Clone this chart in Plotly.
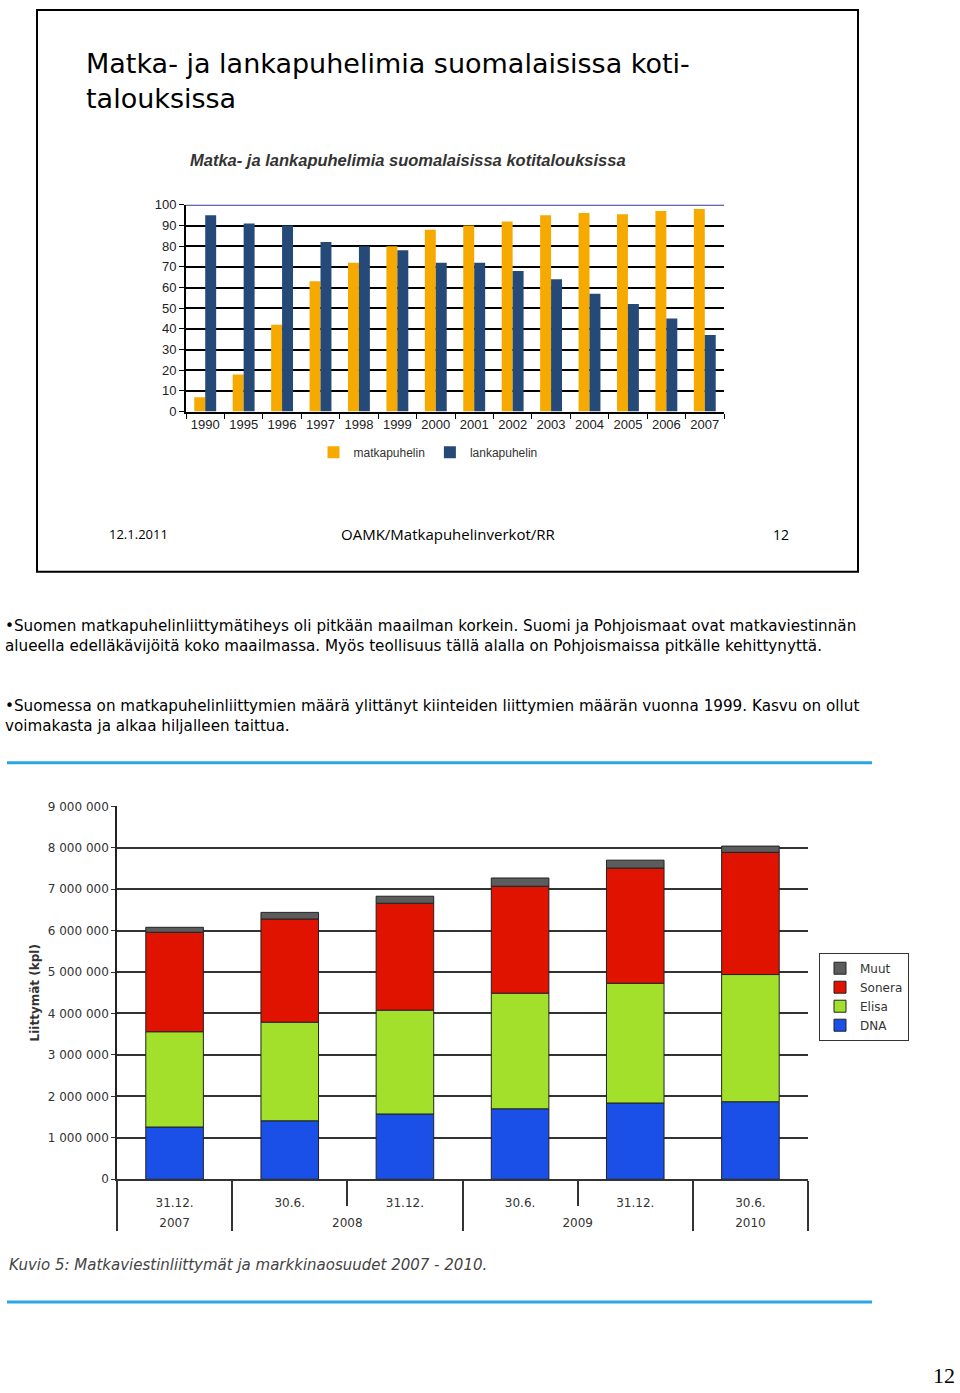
import plotly.graph_objects as go

W, H = 960, 1393


def fx(px):
    return px / W


def fy(py):
    return 1 - py / H


# ---------------- data: top chart ----------------
years = ["1990", "1995", "1996", "1997", "1998", "1999", "2000",
         "2001", "2002", "2003", "2004", "2005", "2006", "2007"]
matkapuhelin = [7, 18, 42, 63, 72, 80, 88, 90, 92, 95, 96, 95.5, 97, 98]
lankapuhelin = [95, 91, 90, 82, 80, 78, 72, 72, 68, 64, 57, 52, 45, 37]

# ---------------- data: bottom chart ----------------
period_year = ["2007", "2008", "2008", "2009", "2009", "2010"]
period_date = ["31.12.", "30.6.", "31.12.", "30.6.", "31.12.", "30.6."]
dna = [1260000, 1410000, 1575000, 1700000, 1840000, 1870000]
elisa = [2300000, 2380000, 2505000, 2790000, 2890000, 3070000]
sonera = [2400000, 2490000, 2580000, 2580000, 2780000, 2950000]
muut = [120000, 160000, 170000, 200000, 190000, 150000]

# inner labels: an invisible second line (non-breaking spaces) adds room
# between the two label rows; the first label gets a different count so
# plotly keeps the "30.6." / "31.12." order inside each year group.
inner_labels = [d + "<br>" + "\u00a0" * (1 if i == 0 else 2)
                for i, d in enumerate(period_date)]

fig = go.Figure()

# top grouped bars
fig.add_trace(go.Bar(x=years, y=matkapuhelin, name="matkapuhelin",
                     marker=dict(color="#f6aa00", line=dict(width=0)),
                     xaxis="x", yaxis="y", legend="legend"))
fig.add_trace(go.Bar(x=years, y=lankapuhelin, name="lankapuhelin",
                     marker=dict(color="#264a78", line=dict(width=0)),
                     xaxis="x", yaxis="y", legend="legend"))

# bottom stacked bars (stacked via base within one offset group)
xcat = [period_year, inner_labels]
stack_series = [("DNA", dna, "#1b50e8"), ("Elisa", elisa, "#a2e02c"),
                ("Sonera", sonera, "#e01200"), ("Muut", muut, "#5c5c5c")]
running = [0] * len(dna)
for name, vals, col in stack_series:
    fig.add_trace(go.Bar(x=xcat, y=vals, base=list(running), name=name,
                         offsetgroup="s", width=0.5,
                         marker=dict(color=col, line=dict(color="#222222", width=1)),
                         xaxis="x2", yaxis="y2", legend="legend2"))
    running = [r + v for r, v in zip(running, vals)]

top_font = dict(family="Liberation Sans", size=13, color="#222222")
bot_font = dict(family="DejaVu Sans", size=12, color="#333333")

fig.update_layout(
    width=W, height=H, margin=dict(l=0, r=0, t=0, b=0),
    paper_bgcolor="white", plot_bgcolor="white",
    barmode="group", bargap=0.43, bargroupgap=0,
    separators=". ",
    showlegend=True,
    xaxis=dict(domain=[fx(186), fx(724)], anchor="y", showline=True,
               linecolor="black", linewidth=2, ticks="outside",
               tickson="boundaries", ticklen=5, tickcolor="black",
               tickfont=top_font, showgrid=False),
    yaxis=dict(domain=[fy(409), fy(200)], anchor="x", range=[0, 100],
               dtick=10, showgrid=True, gridcolor="black", gridwidth=2,
               showline=True, linecolor="black", linewidth=2,
               ticks="outside", ticklen=5, tickcolor="black",
               tickfont=top_font, zeroline=False),
    xaxis2=dict(type="multicategory", domain=[fx(117), fx(808)], anchor="y2",
                showline=True, linecolor="#333333", linewidth=1.5,
                ticks="outside", ticklen=25, tickcolor="#333333",
                tickwidth=1.5, showdividers=True, dividercolor="#333333",
                dividerwidth=1.5, tickfont=bot_font, showgrid=False,
                ticklabelstandoff=12),
    yaxis2=dict(domain=[fy(1185), fy(808)], anchor="x2", range=[0, 9000000],
                dtick=1000000, tickformat=",d", showgrid=True,
                gridcolor="#333333", gridwidth=1.5, showline=True,
                linecolor="#222222", linewidth=1.5, ticks="outside",
                ticklen=4, tickcolor="#333333", tickfont=bot_font,
                zeroline=False,
                title=dict(text="<b>Liittymät (kpl)</b>", standoff=6,
                           font=dict(family="DejaVu Sans", size=12, color="#333333"))),
    legend=dict(orientation="h", x=fx(428), xanchor="center", y=fy(450),
                yanchor="middle", font=dict(family="Liberation Sans", size=12,
                                            color="#333333"),
                bgcolor="rgba(0,0,0,0)", itemwidth=30),
    legend2=dict(x=fx(819), xanchor="left", y=fy(956), yanchor="top",
                 traceorder="reversed", bordercolor="#333333", borderwidth=1,
                 bgcolor="white", font=bot_font, itemwidth=30),
)

shapes = [
    # slide frame
    dict(type="rect", xref="paper", yref="paper", x0=fx(37), x1=fx(858),
         y0=fy(571), y1=fy(3), line=dict(color="black", width=2)),
    # top frame line of top chart at 100
    dict(type="line", xref="x domain", yref="y", x0=0, x1=1, y0=100, y1=100,
         line=dict(color="#2b3d8c", width=2)),
    # blue separators
    dict(type="line", xref="paper", yref="paper", x0=fx(7), x1=fx(872),
         y0=fy(764), y1=fy(764), line=dict(color="#2aa6e6", width=3)),
    dict(type="line", xref="paper", yref="paper", x0=fx(7), x1=fx(872),
         y0=fy(1309), y1=fy(1309), line=dict(color="#2aa6e6", width=3)),
]
fig.update_layout(shapes=shapes)

body = "DejaVu Sans"


def txt(s, x, y, size, family=body, color="black", xanchor="left"):
    return dict(text=s, xref="paper", yref="paper", x=fx(x), y=fy(y),
                xanchor=xanchor, yanchor="middle", align="left",
                showarrow=False,
                font=dict(family=family, size=size, color=color))


annotations = [
    txt("Matka- ja lankapuhelimia suomalaisissa koti-<br>talouksissa",
        84, 74.5, 27),
    txt("<b><i>Matka- ja lankapuhelimia suomalaisissa kotitalouksissa</i></b>",
        188, 155, 16.5, family="Liberation Sans", color="#333333"),
    txt("12.1.2011", 107, 533, 13, family="Open Sans"),
    txt("OAMK/Matkapuhelinverkot/RR", 448, 533, 15, family="Open Sans",
        xanchor="center"),
    txt("12", 781, 533, 14, family="Open Sans", xanchor="center"),
    txt("•Suomen matkapuhelinliittymätiheys oli pitkään maailman korkein. Suomi ja Pohjoismaat ovat matkaviestinnän"
        "<br>alueella edelläkävijöitä koko maailmassa. Myös teollisuus tällä alalla on Pohjoismaissa pitkälle kehittynyttä.",
        3, 636, 15.2),
    txt("•Suomessa on matkapuhelinliittymien määrä ylittänyt kiinteiden liittymien määrän vuonna 1999. Kasvu on ollut"
        "<br>voimakasta ja alkaa hiljalleen taittua.",
        3, 717, 15.2),
    txt("<i>Kuvio 5: Matkaviestinliittymät ja markkinaosuudet 2007 - 2010.</i>",
        7, 1272, 15, color="#444444"),
    txt("12", 957, 1383, 22, family="Liberation Serif", xanchor="right"),
]
fig.update_layout(annotations=annotations)

fig.write_html("out.html", config={"displayModeBar": False},
               post_script="document.body.style.margin='0';")
